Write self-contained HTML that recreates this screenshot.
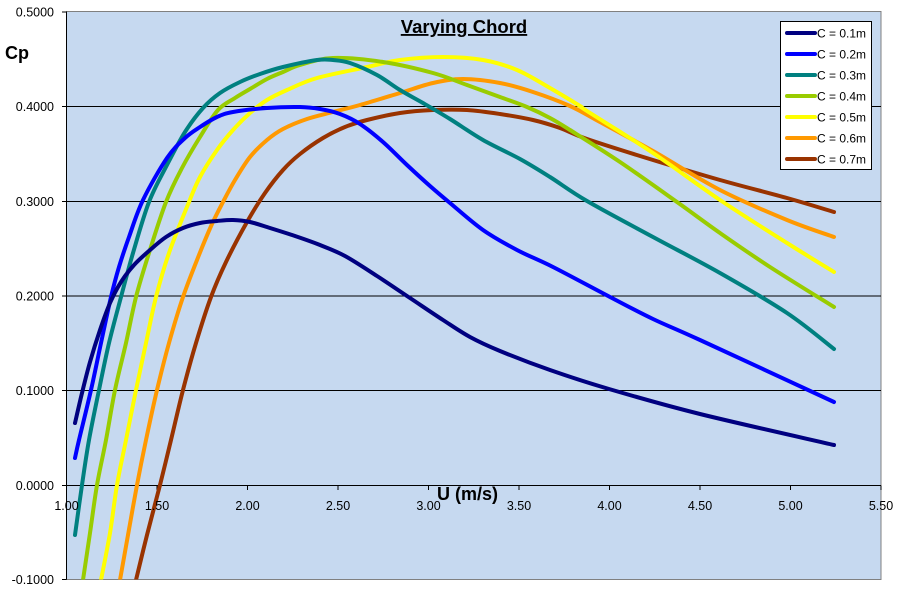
<!DOCTYPE html>
<html>
<head>
<meta charset="utf-8">
<style>
  html,body{margin:0;padding:0;background:#fff;}
  svg{display:block;}
  text{font-family:"Liberation Sans",Arial,sans-serif;fill:#000;}
</style>
</head>
<body>
<svg width="903" height="592" viewBox="0 0 903 592" xmlns="http://www.w3.org/2000/svg">
  <defs>
    <clipPath id="pc"><rect x="66.5" y="11.5" width="814.5" height="568"/></clipPath>
  </defs>
  <rect x="0" y="0" width="903" height="592" fill="#fff"/>
  <rect x="66.5" y="11.5" width="814.5" height="568" fill="#C6D9F0" stroke="#808080" stroke-width="1"/>
  <g stroke="#000" stroke-width="1">
    <line x1="66.5" y1="390.5" x2="881" y2="390.5"/>
    <line x1="66.5" y1="296" x2="881" y2="296"/>
    <line x1="66.5" y1="201.5" x2="881" y2="201.5"/>
    <line x1="66.5" y1="106.5" x2="881" y2="106.5"/>
    <line x1="66.5" y1="485.5" x2="881" y2="485.5"/>
    <line x1="66.5" y1="11.5" x2="66.5" y2="579.5"/>
    <line x1="62" y1="12" x2="66.5" y2="12"/>
    <line x1="62" y1="106.5" x2="66.5" y2="106.5"/>
    <line x1="62" y1="201.5" x2="66.5" y2="201.5"/>
    <line x1="62" y1="296" x2="66.5" y2="296"/>
    <line x1="62" y1="390.5" x2="66.5" y2="390.5"/>
    <line x1="62" y1="485.5" x2="66.5" y2="485.5"/>
    <line x1="62" y1="579.5" x2="66.5" y2="579.5"/>
    <line x1="66.5" y1="485.5" x2="66.5" y2="490"/>
    <line x1="157" y1="485.5" x2="157" y2="490"/>
    <line x1="247.5" y1="485.5" x2="247.5" y2="490"/>
    <line x1="338" y1="485.5" x2="338" y2="490"/>
    <line x1="428.5" y1="485.5" x2="428.5" y2="490"/>
    <line x1="519" y1="485.5" x2="519" y2="490"/>
    <line x1="609.5" y1="485.5" x2="609.5" y2="490"/>
    <line x1="700" y1="485.5" x2="700" y2="490"/>
    <line x1="790.5" y1="485.5" x2="790.5" y2="490"/>
    <line x1="881" y1="485.5" x2="881" y2="490"/>
  </g>

  <g id="series" clip-path="url(#pc)" fill="none" stroke-width="4" stroke-linecap="round" stroke-linejoin="round">
    <polyline class="s" stroke="#993300" points="136,580 147,535 160,485 171,440 183,390 196,343 211,297 226,262 247,222 265,193 283,170 300,154 323,138 345,127 367,120 400,113 433,110 467,110 500,114 533,120 560,128 587,139 653,160 720,180 787,198 834,212"/>
    <polyline class="s" stroke="#FF9900" points="120,580 128,535 137,485 146,440 157,390 169,343 183,297 199,255 212,224 223,202 235,180 250,157 267,140 283,129 307,119 333,112 360,105 400,93 433,83 463,79 500,83 533,92 570,106 600,122 653,151 720,190 787,220 834,237"/>
    <polyline class="s" stroke="#FFFF00" points="101,580 110,533 117,485 126,440 136,390 146,343 156,297 169,253 189,202 200,177 217,150 233,130 250,113 267,100 287,90 317,78 367,67 400,60 443,57 483,60 517,70 550,88 580,106 587,111 653,153 720,200 787,243 834,272"/>
    <polyline class="s" stroke="#99CC00" points="83,580 90,533 97,485 106,440 115,390 126,343 136,297 149,253 166,202 182,168 200,137 218,110 235,98 250,89 267,79 283,72 300,65 333,58 383,62 433,73 467,85 500,97 527,107 550,118 570,130 620,162 677,202 720,233 770,267 834,307"/>
    <polyline class="s" stroke="#008080" points="75,535 82,485 89,440 99,390 109,343 121,297 133,253 149,202 167,165 185,132 203,108 220,93 240,82 260,74 283,67 317,60 333,60 350,63 377,75 400,90 423,103 450,119 483,140 520,159 550,177 587,201 653,237 720,273 787,313 834,349"/>
    <polyline class="s" stroke="#0000FF" points="75,458 79,440 91,390 101,343 111,297 119,267 129,237 143,200 167,158 185,138 200,127 217,117 233,112 267,108 300,107 320,109 340,114 360,124 383,142 407,165 430,186 450,203 483,230 517,250 553,267 610,297 653,319 700,340 834,402"/>
    <polyline class="s" stroke="#000080" points="75,423 82,393 90,362 100,330 110,303 121,282 134,265 150,250 166,237 183,228 200,223 217,221 233,220 250,222 270,228 295,236 320,245 345,256 377,276 410,298 443,320 470,337 500,351 550,370 609,389 700,414 834,445"/>
  </g>

  <g font-size="12.5" text-anchor="end">
    <text x="54" y="16.5">0.5000</text>
    <text x="54" y="111">0.4000</text>
    <text x="54" y="206">0.3000</text>
    <text x="54" y="300.5">0.2000</text>
    <text x="54" y="395">0.1000</text>
    <text x="54" y="490">0.0000</text>
    <text x="54" y="584">-0.1000</text>
  </g>
  <g font-size="12.5" text-anchor="middle">
    <text x="66.5" y="510">1.00</text>
    <text x="157" y="510">1.50</text>
    <text x="247.5" y="510">2.00</text>
    <text x="338" y="510">2.50</text>
    <text x="428.5" y="510">3.00</text>
    <text x="519" y="510">3.50</text>
    <text x="609.5" y="510">4.00</text>
    <text x="700" y="510">4.50</text>
    <text x="790.5" y="510">5.00</text>
    <text x="881" y="510">5.50</text>
  </g>

  <text x="464" y="33" font-size="18.5" font-weight="bold" text-anchor="middle" text-decoration="underline">Varying Chord</text>
  <text x="5" y="59" font-size="18" font-weight="bold">Cp</text>
  <text x="437" y="500" font-size="18" font-weight="bold">U (m/s)</text>

  <rect x="780.5" y="21.5" width="91" height="148" fill="#fff" stroke="#000" stroke-width="1"/>
  <g stroke-width="4" stroke-linecap="round">
    <line x1="787" y1="33" x2="815" y2="33" stroke="#000080"/>
    <line x1="787" y1="54" x2="815" y2="54" stroke="#0000FF"/>
    <line x1="787" y1="75" x2="815" y2="75" stroke="#008080"/>
    <line x1="787" y1="96" x2="815" y2="96" stroke="#99CC00"/>
    <line x1="787" y1="117" x2="815" y2="117" stroke="#FFFF00"/>
    <line x1="787" y1="138" x2="815" y2="138" stroke="#FF9900"/>
    <line x1="787" y1="159" x2="815" y2="159" stroke="#993300"/>
  </g>
  <g font-size="12">
    <text x="817" y="37.5">C = 0.1m</text>
    <text x="817" y="58.5">C = 0.2m</text>
    <text x="817" y="79.5">C = 0.3m</text>
    <text x="817" y="100.5">C = 0.4m</text>
    <text x="817" y="121.5">C = 0.5m</text>
    <text x="817" y="142.5">C = 0.6m</text>
    <text x="817" y="163.5">C = 0.7m</text>
  </g>
</svg>
<script>
(function(){
  var NS="http://www.w3.org/2000/svg";
  var pls=document.querySelectorAll("polyline.s");
  for(var k=0;k<pls.length;k++){
    var pl=pls[k];
    var raw=pl.getAttribute("points").trim().split(/\s+/);
    var p=[];
    for(var i=0;i<raw.length;i++){var c=raw[i].split(",");p.push([+c[0],+c[1]]);}
    var d="M"+p[0][0]+","+p[0][1];
    for(var i=0;i<p.length-1;i++){
      var p0=p[i>0?i-1:i],p1=p[i],p2=p[i+1],p3=p[i+2<p.length?i+2:i+1];
      var c1x=p1[0]+(p2[0]-p0[0])/6,c1y=p1[1]+(p2[1]-p0[1])/6;
      var c2x=p2[0]-(p3[0]-p1[0])/6,c2y=p2[1]-(p3[1]-p1[1])/6;
      d+=" C"+c1x.toFixed(2)+","+c1y.toFixed(2)+" "+c2x.toFixed(2)+","+c2y.toFixed(2)+" "+p2[0]+","+p2[1];
    }
    var path=document.createElementNS(NS,"path");
    path.setAttribute("d",d);
    path.setAttribute("stroke",pl.getAttribute("stroke"));
    pl.parentNode.replaceChild(path,pl);
  }
})();
</script>
</body>
</html>
